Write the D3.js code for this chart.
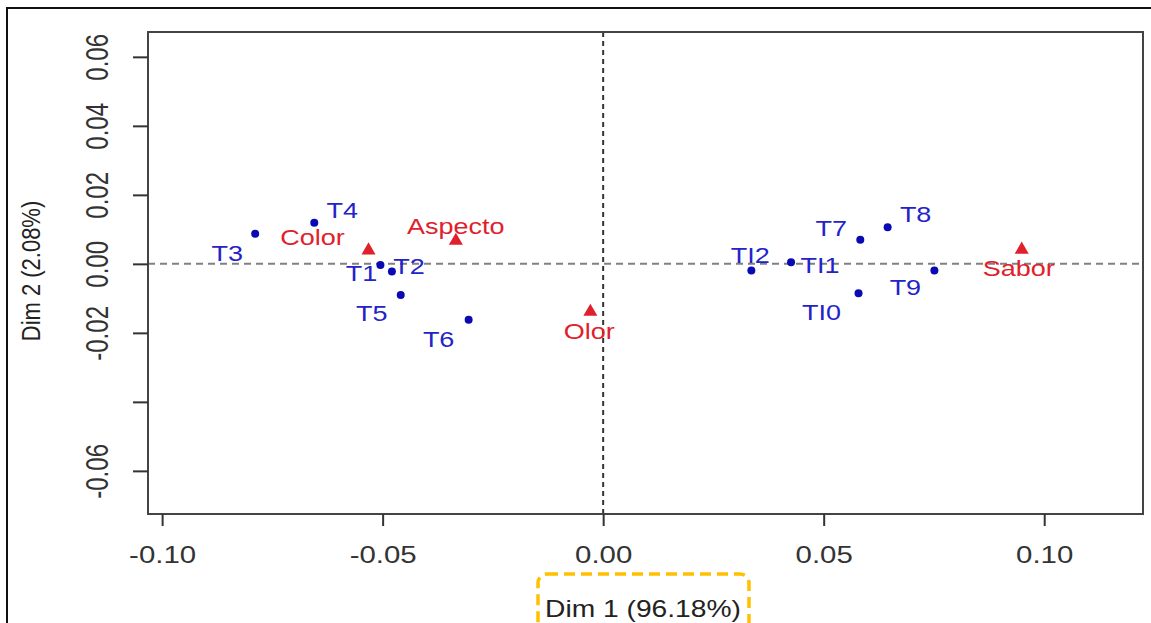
<!DOCTYPE html>
<html>
<head>
<meta charset="utf-8">
<script src="https://cdn.jsdelivr.net/npm/d3@7"></script>
<style>
  body { margin: 0; background: #fff; }
  text { font-family: "Liberation Sans", Arial, sans-serif; }
</style>
</head>
<body>
<div id="chart"></div>
<script>
const width = 1151;
const height = 623;

// individuals (blue dots)
const indNames = ["T1", "T2", "T3", "T4", "T5", "T6", "T7", "T8", "T9", "TI0", "TI1", "TI2"];
const indX = [-0.0505, -0.0479, -0.0789, -0.0655, -0.0459, -0.0305, 0.0583, 0.0645, 0.0751, 0.0579, 0.0426, 0.0336];
const indY = [-0.0003, -0.0022, 0.0087, 0.0119, -0.009, -0.0162, 0.007, 0.0106, -0.0019, -0.0085, 0.0005, -0.0019];

// variables (red triangles)
const varNames = ["Color", "Aspecto", "Olor", "Sabor"];
const varX = [-0.0532, -0.0334, -0.0029, 0.0949];
const varY = [0.0039, 0.0067, -0.0139, 0.0041];

// axis ticks
const xTicks = [-0.1, -0.05, 0, 0.05, 0.1];
const xTickLabels = ["-0.10", "-0.05", "0.00", "0.05", "0.10"];
const yTicks = [0.06, 0.04, 0.02, 0, -0.02, -0.04, -0.06];
const yTickLabels = ["0.06", "0.04", "0.02", "0.00", "-0.02", "", "-0.06"];

const xTitle = "Dim 1 (96.18%)";
const yTitle = "Dim 2 (2.08%)";

// label placement (px offsets from the mark, text centre / baseline)
const labelOffset = {
  T1: [-19, 16], T2: [17, 3], T3: [-28, 27], T4: [28, -5], T5: [-29, 26], T6: [-30, 27],
  T7: [-29, -4], T8: [28, -5], T9: [-29, 25], TI0: [-37, 27], TI1: [29, 11], TI2: [-1, -7],
  Color: [-56, -5], Aspecto: [0, -7], Olor: [-1, 27], Sabor: [-3, 26]
};

const blue = "#2323c8";
const dotBlue = "#0a0ab4";
const red = "#e0202c";
const stretch = 1.2; // the picture is a bit wider than tall

const box = { left: 148, right: 1143, top: 32, bottom: 514 };

const x = d3.scaleLinear().domain([-0.1032, 0.1224]).range([box.left, box.right]);
const y = d3.scaleLinear().domain([-0.0725, 0.0672]).range([box.bottom, box.top]);

const svg = d3.select("#chart").append("svg")
  .attr("width", width)
  .attr("height", height);

// outer frame of the figure
svg.append("rect")
  .attr("x", 7).attr("y", 8)
  .attr("width", 1200).attr("height", 700)
  .attr("fill", "none").attr("stroke", "#111").attr("stroke-width", 2);

// zero lines
svg.append("line")
  .attr("x1", box.left).attr("x2", box.right)
  .attr("y1", y(0)).attr("y2", y(0))
  .attr("stroke", "#808080").attr("stroke-width", 2)
  .attr("stroke-dasharray", "7,5");
svg.append("line")
  .attr("x1", x(0)).attr("x2", x(0))
  .attr("y1", box.top).attr("y2", box.bottom)
  .attr("stroke", "#333").attr("stroke-width", 2)
  .attr("stroke-dasharray", "5,4");

// plot box
svg.append("rect")
  .attr("x", box.left).attr("y", box.top)
  .attr("width", box.right - box.left).attr("height", box.bottom - box.top)
  .attr("fill", "none").attr("stroke", "#444").attr("stroke-width", 2);

// x axis
const xAxis = d3.axisBottom(x)
  .tickValues(xTicks)
  .tickSize(12)
  .tickFormat((d, i) => xTickLabels[i]);
const gx = svg.append("g")
  .attr("transform", `translate(0,${box.bottom})`)
  .call(xAxis);
gx.select(".domain").remove();
gx.selectAll(".tick line").attr("stroke", "#333").attr("stroke-width", 2);
gx.selectAll(".tick text")
  .attr("y", 0).attr("dy", 0)
  .attr("transform", `translate(0,49) scale(${stretch},1)`)
  .attr("font-size", 24.5)
  .attr("fill", "#333");

// y axis
const yAxis = d3.axisLeft(y)
  .tickValues(yTicks)
  .tickSize(15)
  .tickFormat((d, i) => yTickLabels[i]);
const gy = svg.append("g")
  .attr("transform", `translate(${box.left},0)`)
  .call(yAxis);
gy.select(".domain").remove();
gy.selectAll(".tick line").attr("stroke", "#333").attr("stroke-width", 2);
gy.selectAll(".tick text")
  .attr("x", 0).attr("dy", 0)
  .attr("transform", `translate(-40,0) rotate(-90) scale(1,1.3)`)
  .attr("text-anchor", "middle")
  .attr("font-size", 24)
  .attr("fill", "#333");

// axis titles
svg.append("text")
  .attr("transform", `translate(643,617) scale(${stretch},1)`)
  .attr("text-anchor", "middle")
  .attr("font-size", 23.5)
  .attr("fill", "#222")
  .text(xTitle);
svg.append("text")
  .attr("transform", `translate(40,271) rotate(-90) scale(1,${stretch})`)
  .attr("text-anchor", "middle")
  .attr("font-size", 22)
  .attr("fill", "#222")
  .text(yTitle);

// individuals
const inds = indNames.map((n, i) => ({ name: n, x: indX[i], y: indY[i] }));
svg.selectAll(".ind")
  .data(inds)
  .enter()
  .append("circle")
  .attr("class", "ind")
  .attr("cx", (d) => x(d.x))
  .attr("cy", (d) => y(d.y))
  .attr("r", 4)
  .attr("fill", dotBlue);

// variables
const vars = varNames.map((n, i) => ({ name: n, x: varX[i], y: varY[i] }));
const tri = d3.symbol().type(d3.symbolTriangle).size(85);
svg.selectAll(".var")
  .data(vars)
  .enter()
  .append("path")
  .attr("class", "var")
  .attr("d", tri)
  .attr("transform", (d) => `translate(${x(d.x)},${y(d.y)})`)
  .attr("fill", red);

// labels
function addLabels(data, color) {
  svg.selectAll(null)
    .data(data)
    .enter()
    .append("text")
    .attr("transform", (d) => {
      const o = labelOffset[d.name];
      return `translate(${x(d.x) + o[0]},${y(d.y) + o[1]}) scale(${stretch},1)`;
    })
    .attr("text-anchor", "middle")
    .attr("font-size", 22.5)
    .attr("fill", color)
    .text((d) => d.name);
}
addLabels(inds, blue);
addLabels(vars, red);

// highlight round the x title
svg.append("rect")
  .attr("x", 538).attr("y", 574)
  .attr("width", 211).attr("height", 70)
  .attr("rx", 9)
  .attr("fill", "none")
  .attr("stroke", "#ffc000")
  .attr("stroke-width", 3.5)
  .attr("stroke-dasharray", "11,6");
</script>
</body>
</html>
